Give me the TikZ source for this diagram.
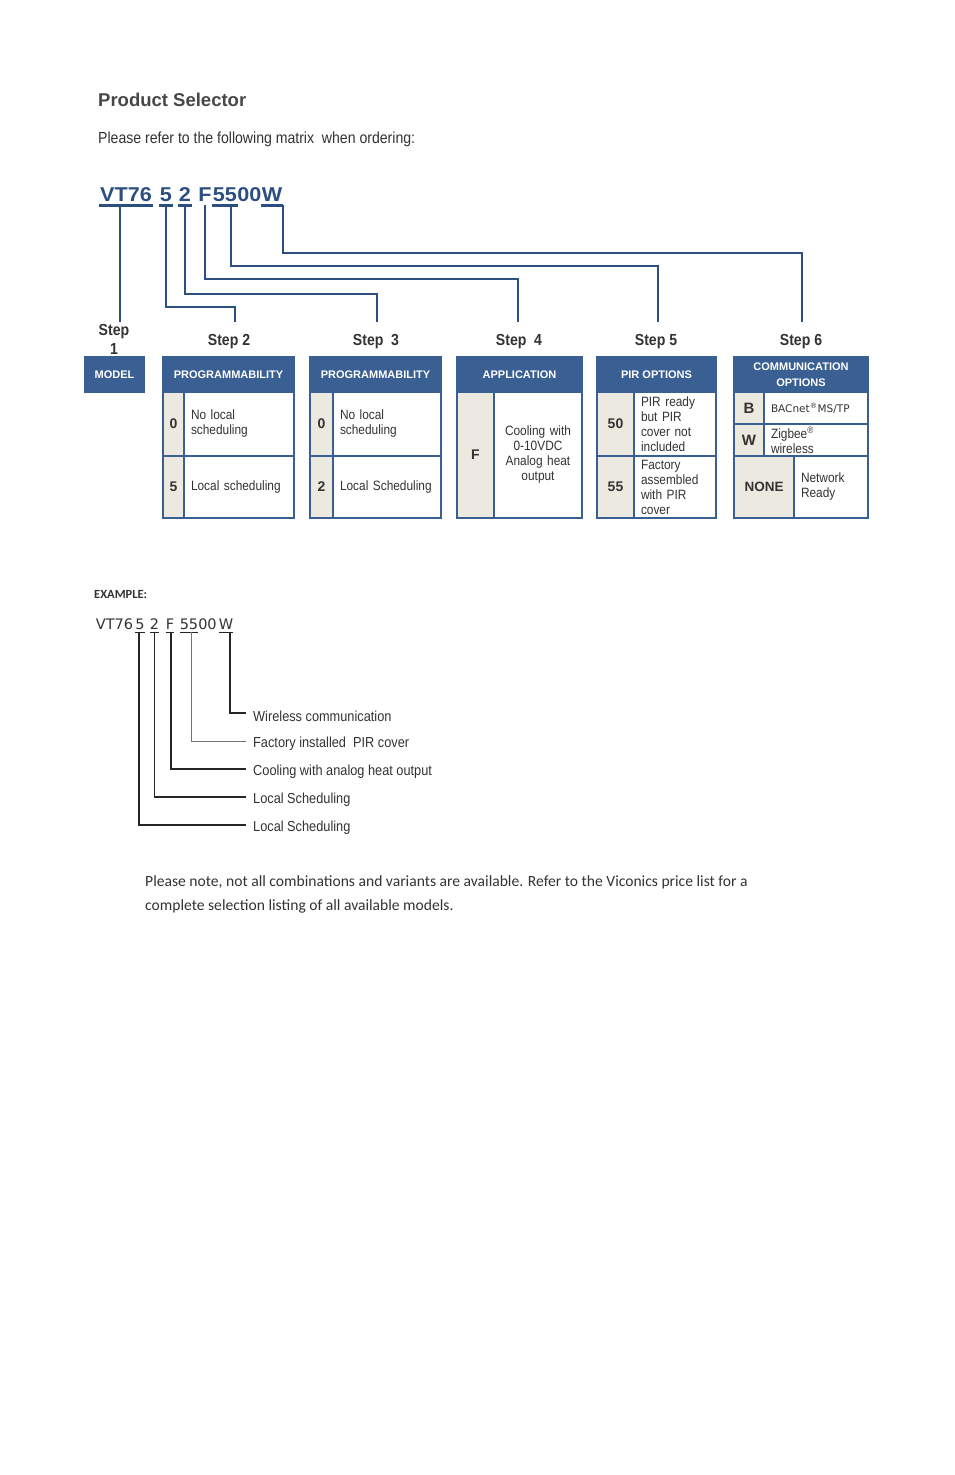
\documentclass[tikz,border=0pt]{standalone}
\usepackage{fontspec}
\setmainfont{Liberation Sans}
\newfontfamily\narrowfont[FakeStretch=0.88]{Liberation Sans}
\newfontfamily\widefont[FakeStretch=1.08]{Liberation Sans}
\newfontfamily\notefont{Carlito}
\newfontfamily\codefont{DejaVu Sans}
\usetikzlibrary{positioning}
\definecolor{hblue}{HTML}{3A5F92}
\definecolor{lblue}{HTML}{2C4F80}
\definecolor{keybg}{HTML}{ECE9E0}
\definecolor{txtgray}{HTML}{333333}
\definecolor{titlegray}{HTML}{474747}
\begin{document}
\begin{tikzpicture}[x=1pt,y=-1pt,
  head/.style={fill=hblue, draw=hblue, line width=1.3pt, text=white, font=\bfseries\fontsize{11}{16}\selectfont, align=center, inner sep=0pt, outer sep=0pt, anchor=north west},
  keycell/.style={fill=keybg, draw=hblue, line width=1.3pt, text=txtgray, font=\bfseries\fontsize{14}{16}\selectfont, inner sep=0pt, outer sep=0pt, anchor=north west},
  valcell/.style={fill=white, draw=hblue, line width=1.3pt, text=txtgray, font=\narrowfont\fontsize{13.5}{15}\selectfont, align=left, text width=#1, inner xsep=7pt, inner ysep=0pt, outer sep=0pt, anchor=north west},
  frame/.style={draw=hblue, line width=2.2pt},
  code/.style={text=lblue, font=\widefont\bfseries\fontsize{20}{24}\selectfont, inner xsep=0.5pt, inner ysep=4pt, anchor=base},
  uline/.style={draw=lblue, line width=2.6pt},
  link/.style={draw=lblue, line width=1.5pt},
  steplabel/.style={text=txtgray, font=\narrowfont\bfseries\fontsize{16}{19}\selectfont, inner xsep=0pt, inner ysep=12pt, anchor=north, align=center},
  excode/.style={text=txtgray, font=\codefont\fontsize{14.5}{17}\selectfont, inner xsep=0pt, inner ysep=3pt, anchor=base},
  exline/.style={draw=black!85, line width=1.4pt},
  exlabel/.style={text=txtgray, font=\narrowfont\fontsize{14.5}{17}\selectfont, inner xsep=7pt, anchor=west}
]
\fill[white] (0,0) rectangle (954,1475);
\useasboundingbox (0,0) rectangle (954,1475);

% heading
\node[anchor=west, inner sep=0pt, text=titlegray, font=\bfseries\fontsize{18.5}{22}\selectfont] (title) at (98,100) {Product Selector};
\node[anchor=west, inner sep=0pt, text=txtgray, font=\narrowfont\fontsize{16}{19}\selectfont] (intro) at (98,139) {Please refer to the following matrix\ \ when ordering:};

% model code
\node[code] (cA) at (126,201) {VT76};
\node[code] (cB) at (166,201) {5};
\node[code] (cC) at (185,201) {2};
\node[code] (cD) at (205,201) {F};
\node[code] (cE) at (225,201) {55};
\node[code] (cF) at (249.5,201) {00};
\node[code] (cG) at (272,201) {W};
\draw[uline] (cA.south west) -- (cA.south east);
\draw[uline] (cB.south west) -- (cB.south east);
\draw[uline] (cC.south west) -- (cC.south east);
\draw[uline] (cE.south west) -- (cE.south east);
\draw[uline] (cG.south west) -- (cG.south east);

% steps
\node[steplabel, inner ysep=2pt] (s1) at (114,322) {Step\\1};
\node[steplabel] (s2) at (229,322) {Step 2};
\node[steplabel] (s3) at (376,322) {Step\ \ 3};
\node[steplabel] (s4) at (519,322) {Step\ \ 4};
\node[steplabel] (s5) at (656,322) {Step 5};
\node[steplabel] (s6) at (801,322) {Step 6};

\draw[link] ([xshift=-6pt]cA.south) -- ([xshift=6pt]s1.north);
\draw[link] (cB.south) |- ([xshift=6pt,yshift=15pt]s2.north) -- ([xshift=6pt]s2.north);
\draw[link] (cC.south) |- ([xshift=1pt,yshift=28pt]s3.north) -- ([xshift=1pt]s3.north);
\draw[link] (cD.south) |- ([xshift=-1pt,yshift=43pt]s4.north) -- ([xshift=-1pt]s4.north);
\draw[link] ([xshift=6pt]cE.south) |- ([xshift=2pt,yshift=56pt]s5.north) -- ([xshift=2pt]s5.north);
\draw[link] (cG.south east) |- ([xshift=1pt,yshift=69pt]s6.north) -- ([xshift=1pt]s6.north);

% step 1
\node[head, minimum width=59pt, minimum height=35pt] (model) at (85,357) {MODEL};

% step 2
\node[head, minimum width=131pt, minimum height=35pt] (h2) at (163,357) {PROGRAMMABILITY};
\node[keycell, minimum width=21pt, minimum height=64pt] (k2a) at (h2.south west) {0};
\node[valcell=96pt, minimum height=64pt] (v2a) at (k2a.north east) {No local\\scheduling};
\node[keycell, minimum width=21pt, minimum height=62pt] (k2b) at (k2a.south west) {5};
\node[valcell=96pt, minimum height=62pt] (v2b) at (k2b.north east) {Local scheduling};
\draw[frame] (h2.north west) rectangle (v2b.south east);

% step 3
\node[head, minimum width=131pt, minimum height=35pt] (h3) at (310,357) {PROGRAMMABILITY};
\node[keycell, minimum width=23pt, minimum height=64pt] (k3a) at (h3.south west) {0};
\node[valcell=94pt, minimum height=64pt] (v3a) at (k3a.north east) {No local\\scheduling};
\node[keycell, minimum width=23pt, minimum height=62pt] (k3b) at (k3a.south west) {2};
\node[valcell=94pt, minimum height=62pt] (v3b) at (k3b.north east) {Local Scheduling};
\draw[frame] (h3.north west) rectangle (v3b.south east);

% step 4
\node[head, minimum width=125pt, minimum height=35pt] (h4) at (457,357) {APPLICATION};
\node[keycell, minimum width=37pt, minimum height=126pt] (k4) at (h4.south west) {F};
\node[valcell=74pt, align=center, minimum height=126pt] (v4) at (k4.north east) {Cooling with\\0-10VDC\\Analog heat\\output};
\draw[frame] (h4.north west) rectangle (v4.south east);

% step 5
\node[head, minimum width=119pt, minimum height=35pt] (h5) at (597,357) {PIR OPTIONS};
\node[keycell, minimum width=37pt, minimum height=64pt] (k5a) at (h5.south west) {50};
\node[valcell=68pt, minimum height=64pt] (v5a) at (k5a.north east) {PIR ready\\but PIR\\cover not\\included};
\node[keycell, minimum width=37pt, minimum height=62pt] (k5b) at (k5a.south west) {55};
\node[valcell=68pt, minimum height=62pt] (v5b) at (k5b.north east) {Factory\\assembled\\with PIR\\cover};
\draw[frame] (h5.north west) rectangle (v5b.south east);

% step 6
\node[head, minimum width=134pt, minimum height=35pt] (h6) at (734,357) {COMMUNICATION\\OPTIONS};
\node[keycell, font=\bfseries\fontsize{15}{17}\selectfont, minimum width=30pt, minimum height=32pt] (k6a) at (h6.south west) {B};
\node[valcell=90pt, minimum height=32pt] (v6a) at (k6a.north east) {\codefont\fontsize{10.5}{12}\selectfont BACnet\textsuperscript{®}MS/TP};
\node[keycell, font=\bfseries\fontsize{15}{17}\selectfont, minimum width=30pt, minimum height=32pt] (k6b) at (k6a.south west) {W};
\node[valcell=90pt, minimum height=32pt] (v6b) at (k6b.north east) {Zigbee\textsuperscript{®}\\wireless};
\node[keycell, font=\bfseries\fontsize{13.5}{16}\selectfont, minimum width=60pt, minimum height=62pt] (k6c) at (k6b.south west) {NONE};
\node[valcell=60pt, minimum height=62pt] (v6c) at (k6c.north east) {Network\\Ready};
\draw[frame] (k6b.north west) -- (v6b.north east);
\draw[frame] (h6.north west) rectangle (v6c.south east);

% example
\node[anchor=west, inner sep=0pt, text=txtgray, font=\notefont\bfseries\fontsize{12.5}{14}\selectfont] (exhead) at (94,594) {EXAMPLE:};
\node[excode] (eA) at (114.5,629) {VT76};
\node[excode] (eB) at (140,629) {5};
\node[excode] (eC) at (154.5,629) {2};
\node[excode] (eD) at (170,629) {F};
\node[excode] (eE) at (189,629) {55};
\node[excode] (eF) at (207.5,629) {00};
\node[excode] (eG) at (226,629) {W};
\draw[exline] (eB.south west) -- (eB.south east);
\draw[exline] (eC.south west) -- (eC.south east);
\draw[exline] (eD.south west) -- (eD.south east);
\draw[exline] (eE.south west) -- (eE.south east);
\draw[exline] (eG.south west) -- (eG.south east);

\node[exlabel] (lG) at (246,716) {Wireless communication};
\node[exlabel] (lE) at (246,744) {Factory installed\ \ PIR cover};
\node[exlabel] (lD) at (246,772) {Cooling with analog heat output};
\node[exlabel] (lC) at (246,800) {Local Scheduling};
\node[exlabel] (lB) at (246,828) {Local Scheduling};

\draw[exline, line width=2pt] ([xshift=4pt]eG.south) |- ([yshift=3pt]lG.west);
\draw[exline, draw=black!55, line width=1pt] ([xshift=2pt]eE.south) |- ([yshift=3pt]lE.west);
\draw[exline] ([xshift=1pt]eD.south) |- ([yshift=3pt]lD.west);
\draw[exline] (eC.south) |- ([yshift=3pt]lC.west);
\draw[exline] ([xshift=-1pt]eB.south) |- ([yshift=3pt]lB.west);

% note
\node[anchor=west, inner sep=0pt, align=left, text=txtgray, font=\notefont\fontsize{15.6}{24}\selectfont] (note) at (145,894) {Please note, not all combinations and variants are available. Refer to the Viconics price list for a\\complete selection listing of all available models.};
\end{tikzpicture}
\end{document}
